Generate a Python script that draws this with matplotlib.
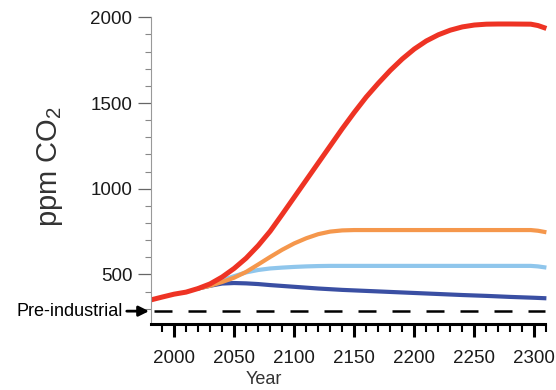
import matplotlib
matplotlib.use('Agg')
import matplotlib.pyplot as plt
from matplotlib.ticker import MultipleLocator, FixedLocator

plt.rcParams['font.family'] = ['Liberation Sans', 'DejaVu Sans']
plt.rcParams['mathtext.default'] = 'regular'

# values (year, ppm CO2)
red_years = [1981, 1990, 2000, 2010, 2020, 2030, 2040, 2050, 2060, 2070, 2080, 2090,
             2100, 2110, 2120, 2130, 2140, 2150, 2160, 2170, 2180, 2190, 2200, 2210,
             2220, 2230, 2240, 2250, 2260, 2270, 2280, 2297, 2303, 2310]
red_ppm = [352, 368, 385, 397, 418, 445, 485, 535, 595, 668, 752, 850,
           950, 1050, 1150, 1250, 1350, 1445, 1535, 1615, 1690, 1757, 1815, 1862,
           1898, 1925, 1944, 1955, 1960, 1961, 1961, 1960, 1952, 1935]

orange_years = [2020, 2030, 2040, 2050, 2060, 2070, 2080, 2090, 2100, 2110, 2120, 2130,
                2140, 2150, 2200, 2250, 2297, 2303, 2310]
orange_ppm = [418, 434, 456, 481, 515, 558, 602, 644, 681, 711, 735, 750,
              757, 759, 759, 759, 759, 755, 746]

lblue_years = [2020, 2030, 2040, 2050, 2060, 2070, 2080, 2090, 2100, 2110, 2120, 2130,
               2200, 2250, 2297, 2303, 2310]
lblue_ppm = [418, 436, 466, 490, 512, 526, 535, 540, 544, 547, 549, 550,
             550, 550, 550, 547, 540]

dblue_years = [2020, 2030, 2040, 2050, 2060, 2070, 2080, 2090, 2100, 2120, 2140, 2160,
               2180, 2200, 2220, 2240, 2260, 2280, 2300, 2310]
dblue_ppm = [418, 434, 447, 450, 448, 444, 438, 433, 428, 418, 410, 404,
             398, 392, 386, 380, 375, 369, 364, 361]

preindustrial = 286

fig = plt.figure(figsize=(5.56, 3.9), dpi=100)
ax = fig.add_axes([151 / 556, 66 / 390, 405 / 556, 324 / 390])

line_kw = dict(solid_capstyle='butt', solid_joinstyle='round')
ax.plot(dblue_years, dblue_ppm, color='#3a4fa3', lw=3.0, **line_kw)
ax.plot(lblue_years, lblue_ppm, color='#8fc6ec', lw=3.0, **line_kw)
ax.plot(orange_years, orange_ppm, color='#f5974c', lw=3.0, **line_kw)
ax.plot(red_years, red_ppm, color='#ee3324', lw=3.6, **line_kw)

# pre-industrial dashed line
ax.plot([1983, 2309], [preindustrial, preindustrial], color='black', lw=1.8,
        dashes=(7.2, 6.4))

ax.set_xlim(1980.8, 2318)
ax.set_ylim(211, 2101)

for s in ['top', 'right']:
    ax.spines[s].set_visible(False)
ax.spines['left'].set_color('#999999')
ax.spines['left'].set_linewidth(0.8)
ax.spines['left'].set_bounds(211, 2000)
ax.spines['bottom'].set_color('black')
ax.spines['bottom'].set_linewidth(2.2)
ax.spines['bottom'].set_bounds(1981, 2309)

ax.set_xticks([2000, 2050, 2100, 2150, 2200, 2250, 2300])
ax.xaxis.set_minor_locator(MultipleLocator(10))
ax.set_yticks([500, 1000, 1500, 2000])
ax.yaxis.set_minor_locator(FixedLocator(list(range(300, 2000, 100))))

ax.tick_params(axis='x', which='major', length=9.5, width=2.2, color='black',
               labelsize=13.5, labelcolor='#1a1a1a', pad=9)
ax.tick_params(axis='x', which='minor', length=6, width=1.5, color='black')
ax.tick_params(axis='y', which='major', length=9.5, width=0.9, color='#666666',
               labelsize=13.5, labelcolor='#1a1a1a', pad=4)
ax.tick_params(axis='y', which='minor', length=4.5, width=0.8, color='#888888')

ax.annotate('Pre-industrial', xy=(149 / 556, preindustrial),
            xycoords=('figure fraction', 'data'),
            xytext=(-19, 0), textcoords='offset points',
            ha='right', va='center', fontsize=13, color='black',
            arrowprops=dict(arrowstyle='-|>', color='black', lw=2.0,
                            mutation_scale=15, shrinkA=1, shrinkB=0),
            annotation_clip=False)

fig.text(50 / 556, 1 - 167 / 390, 'ppm CO$_2$', rotation=90, ha='center',
         va='center', fontsize=21, color='#333333')
fig.text(264 / 556, 1 - 380 / 390, 'Year', ha='center', va='center',
         fontsize=13, color='#333333')

fig.savefig('out.png', dpi=100)
